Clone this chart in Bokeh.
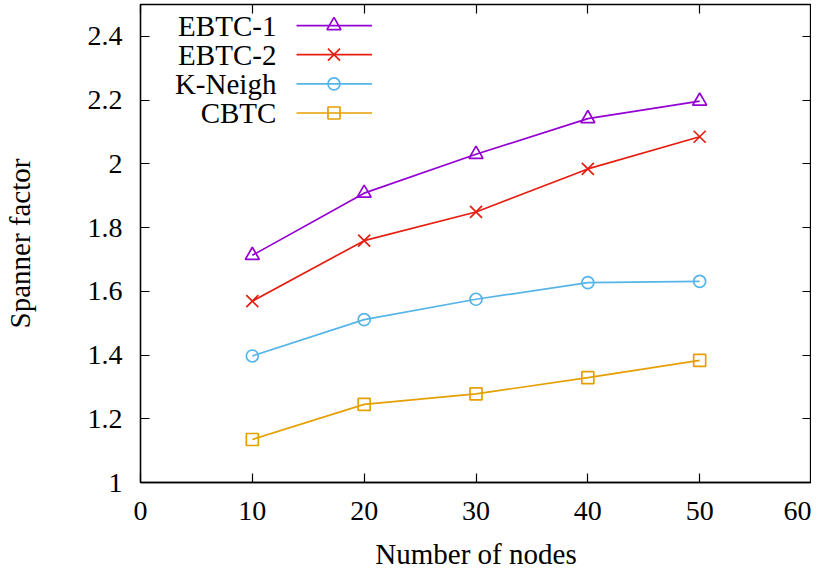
from bokeh.plotting import figure
from bokeh.models import LinearAxis, Label, FixedTicker, Range1d, CustomJSTickFormatter
from bokeh.embed import file_html
from bokeh.resources import INLINE

# ---- data ----
nodes = [10, 20, 30, 40, 50]
ebtc1 = [1.713, 1.908, 2.030, 2.142, 2.197]
ebtc2 = [1.569, 1.759, 1.849, 1.984, 2.085]
kneigh = [1.397, 1.511, 1.575, 1.627, 1.631]
cbtc = [1.135, 1.245, 1.278, 1.329, 1.383]

series_names = ["EBTC-1", "EBTC-2", "K-Neigh", "CBTC"]
series_vals = [ebtc1, ebtc2, kneigh, cbtc]
colors = ["#9400d3", "#e51e10", "#56b4e9", "#e69f00"]
markers = ["triangle", "x", "circle", "square"]
marker_sizes = [14, 17, 12, 12]

x_ticks = [0, 10, 20, 30, 40, 50, 60]
y_ticks = [1, 1.2, 1.4, 1.6, 1.8, 2, 2.2, 2.4]
y_tick_labels = {1: "1", 1.2: "1.2", 1.4: "1.4", 1.6: "1.6", 1.8: "1.8", 2: "2", 2.2: "2.2", 2.4: "2.4"}

FONT = "Liberation Serif"
TICK_FS = "28px"
LABEL_FS = "29px"

p = figure(output_backend="svg", toolbar_location=None,
           frame_width=671, frame_height=478,
           x_range=Range1d(0, 60), y_range=Range1d(1, 2.5),
           min_border_left=140, min_border_right=0, min_border_top=4, min_border_bottom=0,
           x_axis_label="Number of nodes", y_axis_label="Spanner factor")
p.grid.visible = False
p.outline_line_color = "black"
p.outline_line_width = 1.3
p.background_fill_color = "white"
p.border_fill_color = "white"

for ax in p.xaxis + p.yaxis:
    ax.axis_line_color = "black"
    ax.axis_line_width = 1.3
    ax.major_tick_in = 9
    ax.major_tick_out = 0
    ax.major_tick_line_color = "black"
    ax.major_tick_line_width = 1.2
    ax.minor_tick_line_color = None
    ax.major_label_text_font = FONT
    ax.major_label_text_font_size = TICK_FS
    ax.major_label_text_color = "black"
    ax.axis_label_text_font = FONT
    ax.axis_label_text_font_size = LABEL_FS
    ax.axis_label_text_font_style = "normal"
    ax.axis_label_text_color = "black"

p.xaxis.ticker = FixedTicker(ticks=x_ticks)
p.yaxis.ticker = FixedTicker(ticks=y_ticks)
p.yaxis.major_label_overrides = y_tick_labels
p.xaxis.major_label_standoff = 19
p.xaxis.axis_label_standoff = 15
p.yaxis.major_label_standoff = 18
p.yaxis.axis_label_standoff = 49

# mirrored tick axes (no labels)
top = LinearAxis(ticker=FixedTicker(ticks=x_ticks), formatter=CustomJSTickFormatter(code="return ''"),
                 major_tick_in=9, major_tick_out=0, axis_line_color="black",
                 major_tick_line_color="black", major_tick_line_width=1.2,
                 minor_tick_line_color=None, major_label_standoff=0)
right = LinearAxis(ticker=FixedTicker(ticks=y_ticks), formatter=CustomJSTickFormatter(code="return ''"),
                   major_tick_in=9, major_tick_out=0, axis_line_color="black",
                   major_tick_line_color="black", major_tick_line_width=1.2,
                   minor_tick_line_color=None, major_label_standoff=0)
p.add_layout(top, "above")
p.add_layout(right, "right")

for name, vals, c, m, s in zip(series_names, series_vals, colors, markers, marker_sizes):
    p.line(nodes, vals, line_color=c, line_width=1.7)
    p.scatter(nodes, vals, marker=m, size=s, line_color=c, line_width=1.7,
              fill_color=None)

# gnuplot-style legend (text right-aligned, sample to the right)
leg_text_x = 12.15
leg_line_x0, leg_line_x1, leg_mark_x = 13.95, 20.7, 17.3
leg_y0, leg_dy = 2.434, 0.0915
for i, (name, c, m, s) in enumerate(zip(series_names, colors, markers, marker_sizes)):
    yy = leg_y0 - i * leg_dy
    p.add_layout(Label(x=leg_text_x, y=yy, text=name, text_align="right",
                       text_baseline="middle", text_font=FONT,
                       text_font_size=LABEL_FS, text_color="black"))
    p.line([leg_line_x0, leg_line_x1], [yy, yy], line_color=c, line_width=1.7)
    p.scatter([leg_mark_x], [yy], marker=m, size=s, line_color=c,
              line_width=1.7, fill_color=None)

open("out.html", "w").write(file_html(p, INLINE))
